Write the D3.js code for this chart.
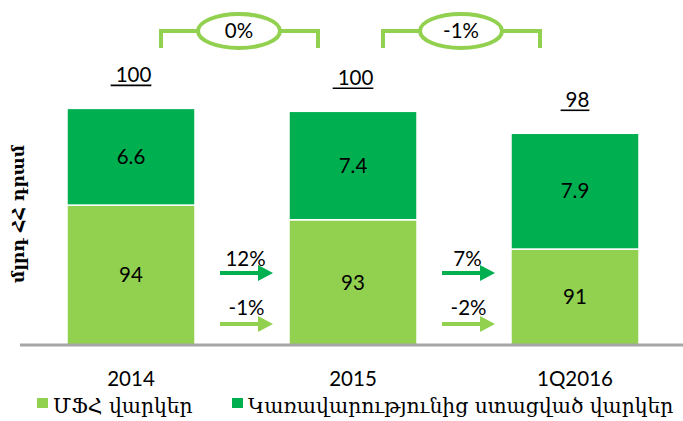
<!DOCTYPE html>
<html>
<head>
<meta charset="utf-8">
<script src="https://cdn.jsdelivr.net/npm/d3@7"></script>
<style>
  html, body { margin: 0; padding: 0; background: #fff; }
  svg { display: block; }
</style>
</head>
<body>
<svg id="chart" width="683" height="421"></svg>
<script>
// Loans, bln AMD
const categories = ["2014", "2015", "1Q2016"];
const mfiLoans = [94, 93, 91];          // ՄՖՀ վարկեր
const govLoans = [6.6, 7.4, 7.9];       // Կառավարությունից ստացված վարկեր
const totals = [100, 100, 98];
const totalChange = ["0%", "-1%"];
const govGrowth = ["12%", "7%"];
const mfiGrowth = ["-1%", "-2%"];
const seriesNames = ["ՄՖՀ վարկեր", "Կառավարությունից ստացված վարկեր"];
const axisTitle = "մլրդ ՀՀ դրամ";

const LIGHT = "#92d050", DARK = "#00b050", AXIS = "#a6a6a6";
const NUM_FONT = "Lato, 'Open Sans', sans-serif";
const ARM_FONT = "'DejaVu Serif', 'DejaVu Sans', serif";

const svg = d3.select("#chart");

const x = d3.scaleBand().domain(categories).range([67, 639]).paddingInner(0.4234).paddingOuter(0);
// value axis is cut: it begins above zero
const y = d3.scaleLinear().domain([84.45, 101.5]).range([345, 95.2]);

const rows = categories.map((c, i) => ({ cat: c, mfi: mfiLoans[i], gov: govLoans[i], total: totals[i] }));
const stack = d3.stack().keys(["mfi", "gov"])(rows);
const colors = { mfi: LIGHT, gov: DARK };

// stacked bars
const layers = svg.append("g").selectAll("g").data(stack).join("g")
  .attr("fill", d => colors[d.key]);
layers.selectAll("rect").data(d => d).join("rect")
  .attr("x", d => x(d.data.cat))
  .attr("width", x.bandwidth())
  .attr("y", d => y(Math.max(d[1], y.domain()[0])))
  .attr("height", d => y(Math.max(d[0], y.domain()[0])) - y(d[1]))
  .attr("stroke", "#fff").attr("stroke-width", 1.5);

// segment values
layers.selectAll("text").data(d => d.map(v => ({ v, key: d.key }))).join("text")
  .attr("x", d => x(d.v.data.cat) + x.bandwidth() / 2)
  .attr("y", d => (y(Math.max(d.v[0], y.domain()[0])) + y(d.v[1])) / 2)
  .attr("dy", "0.35em")
  .attr("text-anchor", "middle")
  .attr("font-family", NUM_FONT).attr("font-size", 20.5).attr("fill", "#000")
  .text(d => d.v.data[d.key]);

// baseline
svg.append("line")
  .attr("x1", 20).attr("x2", 683).attr("y1", 345).attr("y2", 345)
  .attr("stroke", AXIS).attr("stroke-width", 3);

// category axis (no domain line, no ticks)
const xAxis = svg.append("g").attr("transform", "translate(0,345)")
  .call(d3.axisBottom(x).tickSize(0).tickPadding(26));
xAxis.select(".domain").remove();
xAxis.selectAll("text").attr("font-family", NUM_FONT).attr("font-size", 20.5).attr("fill", "#000");

// totals, underlined
rows.forEach(r => {
  const cx = x(r.cat) + x.bandwidth() / 2;
  const base = y(r.mfi + r.gov) - 26;
  const t = svg.append("text")
    .attr("font-family", NUM_FONT).attr("font-size", 20.5).attr("fill", "#000")
    .attr("y", base).text(r.total);
  const w = t.node().getComputedTextLength();
  const sp = 5;
  const start = cx - (w + sp) / 2;
  t.attr("x", start + sp);
  svg.append("line")
    .attr("x1", start).attr("x2", start + sp + w)
    .attr("y1", base + 3).attr("y2", base + 3)
    .attr("stroke", "#000").attr("stroke-width", 1.6);
});

// brackets with total change
totalChange.forEach((lbl, i) => {
  const c0 = x(categories[i]) + x.bandwidth() / 2;
  const c1 = x(categories[i + 1]) + x.bandwidth() / 2;
  const mid = (c0 + c1) / 2 - 3;
  const g = svg.append("g");
  g.append("path")
    .attr("d", `M${c0 + 30},48V31H${c1 - 35}V48`)
    .attr("fill", "none").attr("stroke", LIGHT).attr("stroke-width", 4);
  g.append("ellipse")
    .attr("cx", mid).attr("cy", 31).attr("rx", 41).attr("ry", 17)
    .attr("fill", "#fff").attr("stroke", LIGHT).attr("stroke-width", 4);
  g.append("text")
    .attr("x", mid).attr("y", 31).attr("dy", "0.35em")
    .attr("text-anchor", "middle")
    .attr("font-family", NUM_FONT).attr("font-size", 20.5).attr("fill", "#000")
    .text(lbl);
});

// growth arrows between bars
function arrow(x1, x2, yy, color) {
  svg.append("line").attr("x1", x1).attr("x2", x2 - 14).attr("y1", yy).attr("y2", yy)
    .attr("stroke", color).attr("stroke-width", 4);
  svg.append("path")
    .attr("d", `M${x2 - 15},${yy - 8}L${x2},${yy}L${x2 - 15},${yy + 8}Z`)
    .attr("fill", color);
}
for (let i = 0; i < categories.length - 1; i++) {
  const xa = x(categories[i]) + x.bandwidth() + 25;
  const xb = x(categories[i + 1]) - 16;
  const cx = (xa + xb) / 2;
  arrow(xa, xb, 273, DARK);
  arrow(xa, xb, 324, LIGHT);
  svg.append("text").attr("x", cx - 1).attr("y", 266).attr("text-anchor", "middle")
    .attr("font-family", NUM_FONT).attr("font-size", 20.5).attr("fill", "#000").text(govGrowth[i]);
  svg.append("text").attr("x", cx).attr("y", 315).attr("text-anchor", "middle")
    .attr("font-family", NUM_FONT).attr("font-size", 20.5).attr("fill", "#000").text(mfiGrowth[i]);
}

// value axis title
svg.append("text")
  .attr("transform", "translate(24,214) rotate(-90)")
  .attr("text-anchor", "middle")
  .attr("font-family", ARM_FONT).attr("font-size", 17).attr("font-weight", "bold").attr("fill", "#000")
  .text(axisTitle);

// legend
const legendX = [37, 232];
seriesNames.forEach((name, i) => {
  svg.append("rect").attr("x", legendX[i]).attr("y", 398).attr("width", 11).attr("height", 10)
    .attr("fill", i === 0 ? LIGHT : DARK);
  svg.append("text").attr("x", legendX[i] + 16).attr("y", 413)
    .attr("font-family", ARM_FONT).attr("font-size", 20.3).attr("fill", "#000")
    .text(name);
});
</script>
</body>
</html>
